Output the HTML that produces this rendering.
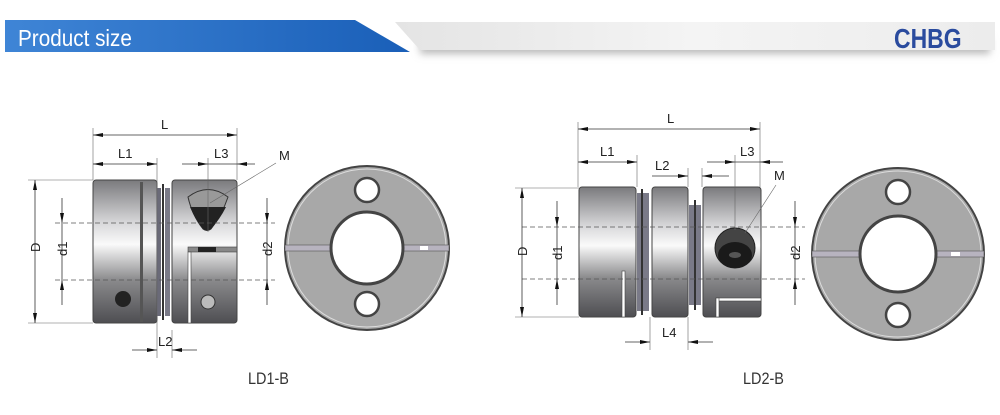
<!DOCTYPE html>
<html><head><meta charset="utf-8"><style>
html,body{margin:0;padding:0;background:#fff;width:1000px;height:415px;overflow:hidden}
svg{display:block}
text{font-family:"Liberation Sans",sans-serif}
.dim{stroke:#333;stroke-width:0.8;fill:none}
.ext{stroke:#666;stroke-width:0.6;fill:none}
.lab{font-family:"Liberation Sans",sans-serif;font-size:13px;fill:#222}
</style></head><body>
<svg width="1000" height="415" viewBox="0 0 1000 415" xmlns="http://www.w3.org/2000/svg">
<defs>
<marker id="a" viewBox="0 0 10 4" refX="10" refY="2" markerWidth="10" markerHeight="4" markerUnits="userSpaceOnUse" orient="auto-start-reverse"><path d="M0,0 L10,2 L0,4z" fill="#111"/></marker>
<linearGradient id="met" x1="0" y1="0" x2="0" y2="1">
<stop offset="0" stop-color="#7a7a7d"/><stop offset="0.3" stop-color="#d8d8da"/><stop offset="0.45" stop-color="#fafafa"/><stop offset="0.7" stop-color="#8a8a8c"/><stop offset="1" stop-color="#4e4e52"/></linearGradient>
<linearGradient id="blue" x1="0" y1="0" x2="1" y2="0"><stop offset="0" stop-color="#3f85d6"/><stop offset="1" stop-color="#1a5fb8"/></linearGradient>
<linearGradient id="grey" x1="0" y1="0" x2="1" y2="0"><stop offset="0" stop-color="#e4e4e4"/><stop offset="0.5" stop-color="#f4f4f4"/><stop offset="1" stop-color="#ececec"/></linearGradient>
<filter id="sh" x="-5%" y="-50%" width="110%" height="220%"><feGaussianBlur stdDeviation="4"/></filter>
</defs>

<!-- header -->
<rect x="420" y="38" width="570" height="16" fill="#bbb" filter="url(#sh)"/>
<polygon points="395,22 995,22 995,50 420,50" fill="url(#grey)"/>
<polygon points="5,20 355,20 410,52 5,52" fill="url(#blue)"/>
<text transform="translate(18,46) scale(0.9,1)" font-size="23" fill="#fff">Product size</text>
<text transform="translate(894,48) scale(0.82,1)" font-size="28" font-weight="bold" fill="#2a4b9e">CHBG</text>

<!-- ===== LD1-B ===== -->
<g>
<rect x="93" y="180" width="64" height="143" rx="3" fill="url(#met)" stroke="#444" stroke-width="1"/>
<rect x="140" y="182" width="3" height="140" fill="#555"/>
<rect x="157" y="188" width="4" height="128" fill="#6a6a78"/>
<rect x="162" y="184" width="2" height="136" fill="#333"/>
<rect x="165" y="188" width="5" height="128" fill="#7a7a88"/>
<rect x="172" y="180" width="65" height="143" rx="3" fill="url(#met)" stroke="#444" stroke-width="1"/>
<rect x="188" y="247" width="49" height="5" fill="#888" stroke="#444" stroke-width="0.6"/>
<rect x="198" y="247" width="18" height="5" fill="#222"/>
<rect x="188" y="252" width="3" height="71" fill="#fff" stroke="#444" stroke-width="0.6"/>
<path d="M188,197 Q208,182 228,197 Q222,215 211,229 Q207,232 203,229 Q192,215 188,197 Z" fill="#999" stroke="#333"/>
<path d="M190,207 L226,207 Q220,219 211,229 Q207,232 203,229 Q195,219 190,207 Z" fill="#222"/>
<circle cx="123" cy="299" r="8" fill="#222"/>
<circle cx="208" cy="302" r="7" fill="#bbb" stroke="#333"/>
<line x1="55" y1="223" x2="275" y2="223" stroke="#555" stroke-width="0.8" stroke-dasharray="5,3"/>
<line x1="55" y1="280" x2="275" y2="280" stroke="#555" stroke-width="0.8" stroke-dasharray="5,3"/>
<line class="ext" x1="93" y1="128" x2="93" y2="180"/>
<line class="ext" x1="237" y1="128" x2="237" y2="180"/>
<line class="ext" x1="157" y1="158" x2="157" y2="358"/>
<line class="ext" x1="172" y1="330" x2="172" y2="358"/>
<line class="ext" x1="208" y1="158" x2="208" y2="232"/>
<line class="ext" x1="28" y1="180" x2="93" y2="180"/>
<line class="ext" x1="28" y1="323" x2="93" y2="323"/>
<line class="dim" x1="93" y1="135" x2="237" y2="135" marker-start="url(#a)" marker-end="url(#a)"/>
<text class="lab" x="161" y="129">L</text>
<line class="dim" x1="93" y1="164" x2="157" y2="164" marker-start="url(#a)" marker-end="url(#a)"/>
<text class="lab" x="118" y="158">L1</text>
<line class="dim" x1="182" y1="164" x2="208" y2="164" marker-end="url(#a)"/>
<line class="dim" x1="255" y1="164" x2="237" y2="164" marker-end="url(#a)"/>
<line class="dim" x1="208" y1="164" x2="237" y2="164"/>
<text class="lab" x="214" y="158">L3</text>
<line class="dim" x1="35" y1="180" x2="35" y2="323" marker-start="url(#a)" marker-end="url(#a)"/>
<text class="lab" transform="translate(40,252) rotate(-90)">D</text>
<line class="dim" x1="62" y1="198" x2="62" y2="223" marker-end="url(#a)"/>
<line class="dim" x1="62" y1="305" x2="62" y2="280" marker-end="url(#a)"/>
<line class="dim" x1="62" y1="223" x2="62" y2="280"/>
<text class="lab" transform="translate(67,256) rotate(-90)">d1</text>
<line class="dim" x1="267" y1="198" x2="267" y2="223" marker-end="url(#a)"/>
<line class="dim" x1="267" y1="305" x2="267" y2="280" marker-end="url(#a)"/>
<line class="dim" x1="267" y1="223" x2="267" y2="280"/>
<text class="lab" transform="translate(272,256) rotate(-90)">d2</text>
<line class="dim" x1="132" y1="350" x2="157" y2="350" marker-end="url(#a)"/>
<line class="dim" x1="197" y1="350" x2="172" y2="350" marker-end="url(#a)"/>
<text class="lab" x="158" y="346">L2</text>
<line class="ext" x1="276" y1="163" x2="210" y2="203"/>
<text class="lab" x="279" y="160">M</text>
<text transform="translate(248,384) scale(0.85,1)" font-size="17" fill="#333" font-family="Liberation Mono,monospace">LD1-B</text>
<circle cx="367" cy="248" r="82" fill="#a8a8a8" stroke="#444" stroke-width="2"/>
<circle cx="367" cy="248" r="79" fill="none" stroke="#ddd" stroke-width="1"/>
<rect x="285" y="245" width="164" height="6" fill="#b7b3bf" stroke="#555" stroke-width="0.6"/>
<rect x="420" y="246" width="8" height="4" fill="#fff"/>
<circle cx="367" cy="248" r="36" fill="#fff" stroke="#444" stroke-width="3"/>
<circle cx="367" cy="190" r="12" fill="#fff" stroke="#444" stroke-width="2.5"/>
<circle cx="367" cy="304" r="12" fill="#fff" stroke="#444" stroke-width="2.5"/>
</g>

<!-- ===== LD2-B ===== -->
<g>
<rect x="579" y="187" width="57" height="130" rx="3" fill="url(#met)" stroke="#444"/>
<rect x="622" y="271" width="3" height="46" fill="#fff" stroke="#444" stroke-width="0.6"/>
<rect x="637" y="193" width="12" height="118" fill="#7a7a88"/>
<rect x="641" y="189" width="2" height="126" fill="#333"/>
<rect x="652" y="187" width="36" height="130" rx="3" fill="url(#met)" stroke="#444"/>
<rect x="689" y="205" width="12" height="100" fill="#7a7a88"/>
<rect x="694" y="200" width="2" height="110" fill="#333"/>
<rect x="703" y="187" width="58" height="130" rx="3" fill="url(#met)" stroke="#444"/>
<rect x="716" y="298" width="45" height="3" fill="#fff" stroke="#444" stroke-width="0.6"/>
<rect x="716" y="298" width="3" height="19" fill="#fff" stroke="#444" stroke-width="0.6"/>
<ellipse cx="735" cy="248" rx="20" ry="20" fill="#444" stroke="#222"/>
<ellipse cx="735" cy="255" rx="17" ry="13" fill="#1a1a1a"/>
<ellipse cx="735" cy="255" rx="6" ry="3" fill="#555"/>
<line x1="522" y1="227" x2="805" y2="227" stroke="#555" stroke-width="0.8" stroke-dasharray="5,3"/>
<line x1="522" y1="279" x2="805" y2="279" stroke="#555" stroke-width="0.8" stroke-dasharray="5,3"/>
<line class="ext" x1="578" y1="122" x2="578" y2="187"/>
<line class="ext" x1="760" y1="122" x2="760" y2="187"/>
<line class="ext" x1="637" y1="155" x2="637" y2="187"/>
<line class="ext" x1="688" y1="168" x2="688" y2="187"/>
<line class="ext" x1="702" y1="168" x2="702" y2="187"/>
<line class="ext" x1="735" y1="155" x2="735" y2="230"/>
<line class="ext" x1="650" y1="317" x2="650" y2="350"/>
<line class="ext" x1="688" y1="317" x2="688" y2="350"/>
<line class="ext" x1="515" y1="188" x2="579" y2="188"/>
<line class="ext" x1="515" y1="317" x2="579" y2="317"/>
<line class="dim" x1="578" y1="129" x2="760" y2="129" marker-start="url(#a)" marker-end="url(#a)"/>
<text class="lab" x="667" y="123">L</text>
<line class="dim" x1="578" y1="162" x2="637" y2="162" marker-start="url(#a)" marker-end="url(#a)"/>
<text class="lab" x="600" y="156">L1</text>
<line class="dim" x1="652" y1="176" x2="688" y2="176" marker-end="url(#a)"/>
<line class="dim" x1="729" y1="176" x2="702" y2="176" marker-end="url(#a)"/>
<text class="lab" x="655" y="170">L2</text>
<line class="dim" x1="707" y1="162" x2="735" y2="162" marker-end="url(#a)"/>
<line class="dim" x1="783" y1="162" x2="760" y2="162" marker-end="url(#a)"/>
<line class="dim" x1="735" y1="162" x2="760" y2="162"/>
<text class="lab" x="740" y="156">L3</text>
<line class="dim" x1="625" y1="342" x2="650" y2="342" marker-end="url(#a)"/>
<line class="dim" x1="713" y1="342" x2="688" y2="342" marker-end="url(#a)"/>
<text class="lab" x="662" y="337">L4</text>
<line class="dim" x1="522" y1="188" x2="522" y2="317" marker-start="url(#a)" marker-end="url(#a)"/>
<text class="lab" transform="translate(527,256) rotate(-90)">D</text>
<line class="dim" x1="557" y1="201" x2="557" y2="227" marker-end="url(#a)"/>
<line class="dim" x1="557" y1="305" x2="557" y2="279" marker-end="url(#a)"/>
<line class="dim" x1="557" y1="227" x2="557" y2="279"/>
<text class="lab" transform="translate(562,260) rotate(-90)">d1</text>
<line class="dim" x1="795" y1="201" x2="795" y2="227" marker-end="url(#a)"/>
<line class="dim" x1="795" y1="305" x2="795" y2="279" marker-end="url(#a)"/>
<line class="dim" x1="795" y1="227" x2="795" y2="279"/>
<text class="lab" transform="translate(800,260) rotate(-90)">d2</text>
<line class="ext" x1="776" y1="185" x2="745" y2="233"/>
<text class="lab" x="774" y="180">M</text>
<text transform="translate(743,384) scale(0.85,1)" font-size="17" fill="#333" font-family="Liberation Mono,monospace">LD2-B</text>
<circle cx="898" cy="254" r="86" fill="#a8a8a8" stroke="#444" stroke-width="2"/>
<circle cx="898" cy="254" r="83" fill="none" stroke="#ddd" stroke-width="1"/>
<rect x="812" y="251" width="172" height="6" fill="#b7b3bf" stroke="#555" stroke-width="0.6"/>
<rect x="951" y="252" width="9" height="4" fill="#fff"/>
<circle cx="898" cy="254" r="38" fill="#fff" stroke="#444" stroke-width="3"/>
<circle cx="898" cy="192" r="12" fill="#fff" stroke="#444" stroke-width="2.5"/>
<circle cx="898" cy="315" r="12" fill="#fff" stroke="#444" stroke-width="2.5"/>
</g>
</svg>
</body></html>
